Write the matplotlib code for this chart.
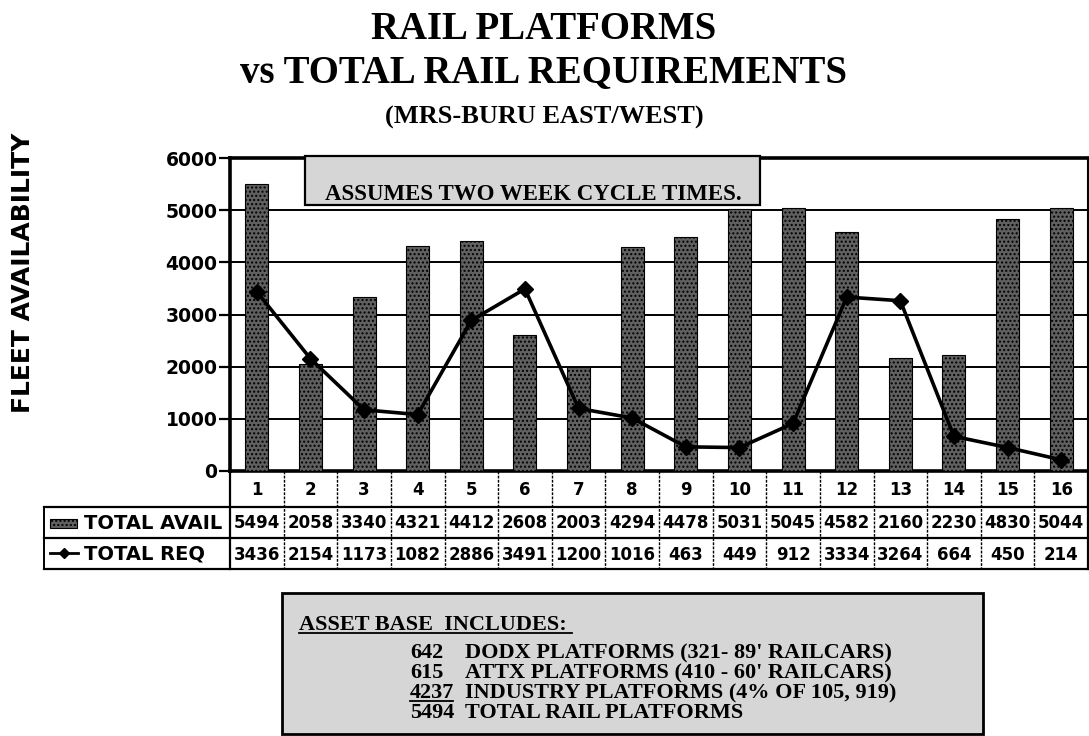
import matplotlib
matplotlib.use("Agg")
import matplotlib.pyplot as plt
from matplotlib.patches import Rectangle
from matplotlib.lines import Line2D
from matplotlib.transforms import blended_transform_factory

# ---------------- data ----------------
categories = [str(i) for i in range(1, 17)]
total_avail = [5494, 2058, 3340, 4321, 4412, 2608, 2003, 4294, 4478, 5031,
               5045, 4582, 2160, 2230, 4830, 5044]
total_req = [3436, 2154, 1173, 1082, 2886, 3491, 1200, 1016, 463, 449,
             912, 3334, 3264, 664, 450, 214]
y_ticks = [0, 1000, 2000, 3000, 4000, 5000, 6000]
series_names = ["TOTAL AVAIL", "TOTAL REQ"]
title_lines = ["RAIL PLATFORMS", "vs TOTAL RAIL REQUIREMENTS", "(MRS-BURU EAST/WEST)"]
y_label = "FLEET AVAILABILITY"
note_text = "ASSUMES TWO WEEK CYCLE TIMES."
asset_header = "ASSET BASE  INCLUDES:"
asset_counts = ["642", "615", "4237", "5494"]
asset_desc = ["DODX PLATFORMS (321- 89' RAILCARS)",
              "ATTX PLATFORMS (410 - 60' RAILCARS)",
              "INDUSTRY PLATFORMS (4% OF 105, 919)",
              "TOTAL RAIL PLATFORMS"]

W, H = 1089, 736
fig = plt.figure(figsize=(W / 100, H / 100), dpi=100)
fig.patch.set_facecolor("white")

SANS = "DejaVu Sans"
SERIF = "Liberation Serif"
BAR_COLOR = "#606060"

# main axes
ax_left, ax_right, ax_top, ax_bottom = 230, 1088, 158, 471
ax = fig.add_axes([ax_left / W, 1 - ax_bottom / H, (ax_right - ax_left) / W,
                   (ax_bottom - ax_top) / H])
x = list(range(1, len(categories) + 1))
ax.set_xlim(0.5, len(categories) + 0.5)
ax.set_ylim(0, 6000)
ax.bar(x, total_avail, width=0.43, color=BAR_COLOR, edgecolor="black",
       hatch="....", linewidth=0.8, zorder=3)
ax.plot(x, total_req, color="black", lw=2.6, marker="D", markersize=8,
        zorder=4)
ax.yaxis.grid(True, color="black", lw=1.4)
ax.set_axisbelow(True)
ax.set_xticks([])
ax.set_yticks(y_ticks)
ax.set_yticklabels([str(v) for v in y_ticks], fontsize=13.5,
                   fontweight="bold", family=SANS)
ax.tick_params(axis="y", length=8, width=1.6, direction="out", pad=1)
for s in ["left", "top", "bottom"]:
    ax.spines[s].set_linewidth(2.6)
ax.spines["right"].set_linewidth(1.5)

# overlay axes in pixel coordinates
ov = fig.add_axes([0, 0, 1, 1], zorder=5)
ov.set_xlim(0, W)
ov.set_ylim(H, 0)
ov.axis("off")
ov.patch.set_alpha(0)
bt = blended_transform_factory(ax.transData, ov.transData)

# ---------------- table ----------------
row_edges = [471, 507, 538, 569]
row_mid = [(row_edges[i] + row_edges[i + 1]) / 2 for i in range(3)]
tbl_left = 44
for yy in row_edges[1:]:
    ov.add_line(Line2D([tbl_left, ax_right], [yy, yy], color="black", lw=1.6))
ov.add_line(Line2D([tbl_left, tbl_left], [row_edges[1], row_edges[3]],
                   color="black", lw=1.4))
for i in range(len(categories) + 1):
    xe = i + 0.5
    ls = "-" if i in (0, len(categories)) else (0, (2, 1))
    lw = 1.6 if i in (0, len(categories)) else 1.0
    ov.add_line(Line2D([xe, xe], [row_edges[0], row_edges[3]], color="black",
                       lw=lw, ls=ls, transform=bt))
for xi, cat, av, rq in zip(x, categories, total_avail, total_req):
    ov.text(xi, row_mid[0] + 1, cat, transform=bt, ha="center", va="center",
            fontsize=12, fontweight="bold", family=SANS)
    ov.text(xi, row_mid[1] + 1, str(av), transform=bt, ha="center",
            va="center", fontsize=12, fontweight="bold", family=SANS)
    ov.text(xi, row_mid[2] + 1, str(rq), transform=bt, ha="center",
            va="center", fontsize=12, fontweight="bold", family=SANS)

# legend swatches
ov.add_patch(Rectangle((50, 519), 27, 9, facecolor=BAR_COLOR,
                       edgecolor="black", hatch="....", lw=0.8))
ov.add_line(Line2D([50, 78], [553, 553], color="black", lw=2.0))
ov.plot([64], [553], marker="D", color="black", markersize=5.5)
ov.text(84, row_mid[1] + 1, series_names[0], ha="left", va="center",
        fontsize=14, fontweight="bold", family=SANS)
ov.text(84, row_mid[2] + 1, series_names[1], ha="left", va="center",
        fontsize=14, fontweight="bold", family=SANS)

# ---------------- titles ----------------
ov.text(544, 39, title_lines[0], ha="center", va="baseline", fontsize=28,
        fontweight="bold", family=SERIF)
ov.text(544, 82, title_lines[1], ha="center", va="baseline", fontsize=28,
        fontweight="bold", family=SERIF)
ov.text(544, 124, title_lines[2], ha="center", va="baseline", fontsize=19,
        fontweight="bold", family=SERIF)
ov.text(23, 273, y_label, rotation=90, ha="center", va="center",
        fontsize=18, fontweight="bold", family=SANS)

# ---------------- note box ----------------
ov.add_patch(Rectangle((305, 156), 455, 49, facecolor="#d6d6d6",
                       edgecolor="black", lw=1.6))
ov.text(325, 200, note_text, ha="left", va="baseline", fontsize=16.5,
        fontweight="bold", family=SERIF)

# ---------------- asset box ----------------
ov.add_patch(Rectangle((282, 593), 701, 141, facecolor="#d6d6d6",
                       edgecolor="black", lw=2.0))
ov.text(299, 630, asset_header, ha="left", va="baseline", fontsize=16,
        fontweight="bold", family=SERIF)
ov.add_line(Line2D([299, 572], [633, 633], color="black", lw=1.3))
baselines = [658, 678, 698, 718]
for bl, cnt, desc in zip(baselines, asset_counts, asset_desc):
    ov.text(410, bl, cnt, ha="left", va="baseline", fontsize=16,
            fontweight="bold", family=SERIF)
    ov.text(465, bl, desc, ha="left", va="baseline", fontsize=16,
            fontweight="bold", family=SERIF)
ov.add_line(Line2D([410, 453], [701, 701], color="black", lw=1.3))

fig.savefig("out.png", dpi=100, facecolor="white")
